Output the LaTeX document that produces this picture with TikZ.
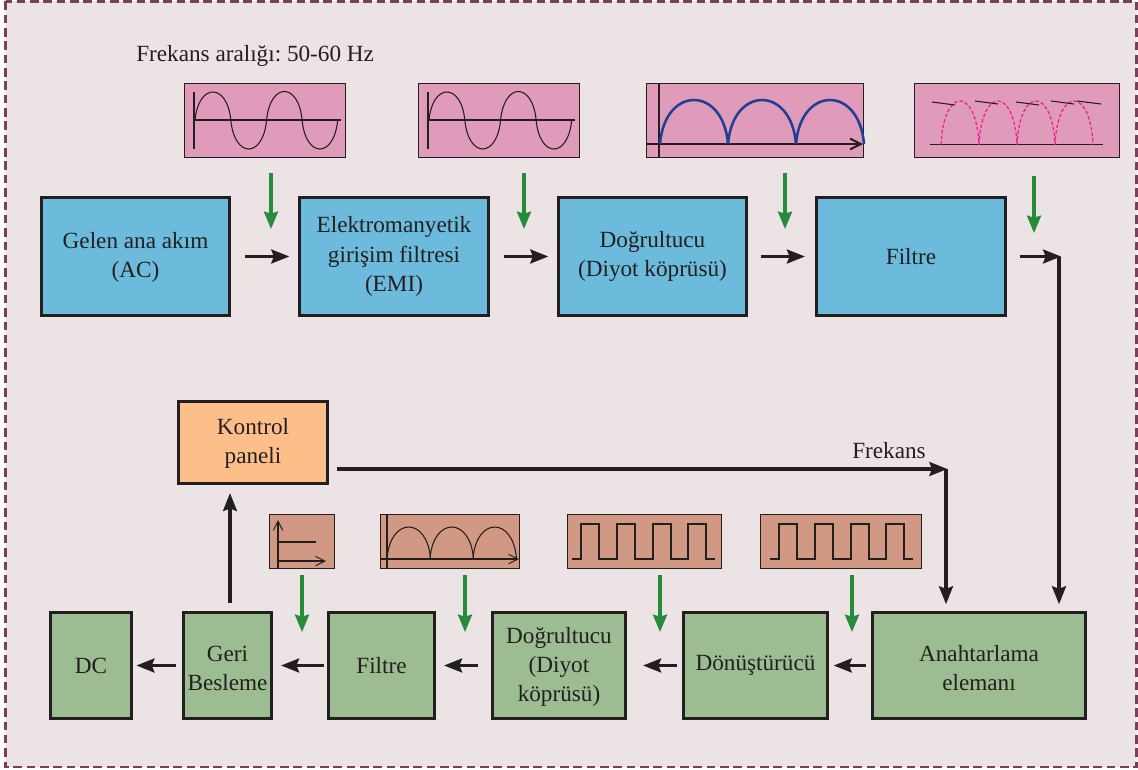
\documentclass[tikz,border=0pt]{standalone}
\usepackage{fontspec}
\setmainfont{Liberation Serif}
\usetikzlibrary{arrows.meta,calc}
\definecolor{paper}{HTML}{EBE3E4}
\definecolor{frame}{HTML}{7B3F5E}
\definecolor{ink}{HTML}{231F20}
\definecolor{bluebox}{HTML}{6CBADC}
\definecolor{greenbox}{HTML}{9CBD92}
\definecolor{orangebox}{HTML}{FCBF8A}
\definecolor{pinkthumb}{HTML}{E09ABA}
\definecolor{brownthumb}{HTML}{D19883}
\definecolor{greenarrow}{HTML}{268C39}
\definecolor{wave}{HTML}{1F3F94}
\definecolor{ripple}{HTML}{EC1C8E}
\frenchspacing
\tikzset{
  x=0.75pt,y=-0.75pt,
  sz/.style 2 args={minimum width=#1*0.75pt,minimum height=#2*0.75pt},
  block/.style={draw=ink,line width=2.4pt,inner sep=0pt,align=center,text=ink,font=\fontsize{17.4}{22}\selectfont},
  bluebl/.style={block,fill=bluebox},
  greenbl/.style={block,fill=greenbox},
  orangebl/.style={block,fill=orangebox},
  thumb/.style={draw=ink,line width=0.75pt,inner sep=0pt},
  pink/.style={thumb,fill=pinkthumb},
  brown/.style={thumb,fill=brownthumb},
  label/.style={text=ink,inner sep=0pt,font=\fontsize{17.4}{22}\selectfont},
  flow/.style={draw=ink,line width=2.3pt,-{Stealth[length=13.5pt,width=10.5pt,inset=2pt]}},
  feed/.style={draw=greenarrow,line width=2.3pt,-{Stealth[length=13pt,width=10.5pt,inset=1.5pt]}},
  thin wave/.style={draw=ink,line width=0.8pt},
  barb/.style={-{Straight Barb[length=7pt,width=7pt,line width=0.75pt]}},
}
\newcommand{\halfwave}[5][thin wave]{\draw[#1] (#2,#3) .. controls ({#2+0.1*#4},{#3+1.333*#5}) and ({#2+0.9*#4},{#3+1.333*#5}) .. ({#2+#4},#3);}
\newcommand{\archalf}[5][thin wave]{\draw[#1] (#2,#3) .. controls ({#2+0.07*#4},{#3+1.333*#5}) and ({#2+0.93*#4},{#3+1.333*#5}) .. ({#2+#4},#3);}
\begin{document}
\begin{tikzpicture}
\useasboundingbox (0,0) rectangle (1138,770);
\fill[white] (0,0) rectangle (1138,770);
\draw[frame,fill=paper,line width=1.9pt,dash pattern=on 6.4pt off 3.6pt] (5.5,1.5) rectangle (1136.5,767);

% labels
\node[label,anchor=west] (range) at (136,56) {Frekans aralığı: 50-60 Hz};
\node[label] (freq) at (889,451) {Frekans};

% top row
\node[bluebl,sz={188}{118}] (ac) at (135.5,256.5) {\rule{0pt}{13pt}Gelen ana akım\\(AC)};
\node[bluebl,sz={189}{118}] (emi) at (394,256.5) {Elektromanyetik\\girişim filtresi\\(EMI)};
\node[bluebl,sz={188}{118}] (rect) at (652.5,256.5) {Doğrultucu\\(Diyot köprüsü)};
\node[bluebl,sz={189}{118}] (filt) at (911,256.5) {Filtre};

% control
\node[orangebl,sz={149}{82}] (ctrl) at (253,442.5) {\rule{0pt}{13pt}Kontrol\\paneli};

% bottom row
\node[greenbl,sz={81}{106}] (dc) at (91,665.5) {DC};
\node[greenbl,sz={88}{106}] (fb) at (227.5,665.5) {\rule{0pt}{16pt}Geri\\Besleme};
\node[greenbl,sz={106}{106}] (filtb) at (381.5,665.5) {Filtre};
\node[greenbl,sz={133}{106},font=\fontsize{17.4}{21.5}\selectfont] (rectb) at (559,665.5) {\rule{0pt}{14pt}Doğrultucu\\(Diyot\\köprüsü)};
\node[greenbl,sz={144}{106}] (conv) at (755.5,665.5) {Dönüştürücü};
\node[greenbl,sz={213}{106}] (sw) at (979,665.5) {\rule{0pt}{16pt}Anahtarlama\\elemanı};

% thumbnails
\node[pink,sz={161}{74}] (t1) at (264.5,121) {};
\node[pink,sz={161}{74}] (t2) at (498.5,121) {};
\node[pink,sz={217}{74}] (t3) at (755,121) {};
\node[pink,sz={205}{74}] (t4) at (1016.5,121) {};
\node[brown,sz={65}{54}] (b1) at (301.5,541) {};
\node[brown,sz={139}{54}] (b2) at (449.5,541) {};
\node[brown,sz={154}{54}] (b3) at (644,541) {};
\node[brown,sz={161}{54}] (b4) at (840.5,541) {};

% sine curves
\foreach \dx in {0,234}{
  \begin{scope}[xshift=\dx*0.75pt]
    \draw[thin wave] (194,92) -- (194,149);
    \draw[thin wave] (194,120) -- (341,120);
    \halfwave{195}{120}{35.8}{-28}
    \halfwave{230.8}{120}{35.8}{29}
    \halfwave{266.6}{120}{35.5}{-28.5}
    \halfwave{302.1}{120}{35.6}{29}
  \end{scope}
}
% rectified, blue
\draw[draw=ink,line width=1.9pt] (659,84) -- (659,158);
\draw[draw=ink,line width=1.9pt,-{Straight Barb[length=8pt,width=8pt,line width=1.5pt]}] (647,144) -- (863,144);
\foreach \xx in {660,728,796}{\archalf[draw=wave,line width=1.9pt]{\xx}{144}{68}{-44}}
% ripple
\draw[thin wave] (930,144.7) -- (1103,144.7);
\foreach \xx in {941,979,1017,1055}{\archalf[draw=ripple,line width=0.9pt,dash pattern=on 2.6pt off 1.6pt]{\xx}{144.7}{38}{-43.7}}
\draw[thin wave] (932,102) -- (955,105);
\draw[thin wave] (975,101) -- (998,104);
\draw[thin wave] (1016,102) -- (1039,105);
\draw[thin wave] (1051,101) -- (1074,104);
\draw[thin wave] (1077,101) -- (1101,104);

% DC level
\draw[thin wave,barb] (278,568) -- (278,520);
\draw[thin wave,barb] (278,561) -- (326,561);
\draw[thin wave] (278,542) -- (316,542);
% rectified, black
\draw[thin wave] (387,514) -- (387,568);
\draw[thin wave,barb] (380,559) -- (519,559);
\foreach \xx in {387,430,473}{\archalf{\xx}{559}{43.5}{-32}}
% square waves
\draw[thin wave] (572,559) -| (581,524) -| (599,559) -| (617,524) -| (635,559) -| (653,524) -| (671,559) -| (688,524) -| (706,559) -- (715,559);
\draw[thin wave] (770,559) -| (779,524) -| (797,559) -| (815,524) -| (833,559) -| (851,524) -| (869,559) -| (886,524) -| (904,559) -- (913,559);

% green arrows
\coordinate (g1s) at (271,173); \coordinate (g1e) at (271,229);
\coordinate (g2s) at (524,173); \coordinate (g2e) at (524,229);
\coordinate (g3s) at (785,173); \coordinate (g3e) at (785,229);
\coordinate (g4s) at (1034,176); \coordinate (g4e) at (1034,233);
\coordinate (g5s) at (302,575); \coordinate (g5e) at (302,632);
\coordinate (g6s) at (465,575); \coordinate (g6e) at (465,632);
\coordinate (g7s) at (660,575); \coordinate (g7e) at (660,632);
\coordinate (g8s) at (852,575); \coordinate (g8e) at (852,632);
\foreach \n in {1,...,8}{\draw[feed] (g\n s) -- (g\n e);}

% top flow
\draw[flow,shorten <=10.5pt,shorten >=6.5pt] (ac.east) -- (emi.west);
\draw[flow,shorten <=10.5pt,shorten >=6.5pt] (emi.east) -- (rect.west);
\draw[flow,shorten <=9.5pt,shorten >=7.5pt] (rect.east) -- (filt.west);
\coordinate (c1) at (1059,256.5);
\draw[flow,shorten <=9.5pt,shorten >=-1.5pt] (filt.east) -- (c1);
\draw[flow,shorten >=5pt] (c1) -- (c1 |- sw.north);
% control flow
\coordinate (c2) at (946,469);
\coordinate (c3) at (230,600);
\draw[flow,shorten <=6pt,shorten >=-1pt] (ctrl.east |- c2) -- (c2);
\draw[flow,shorten >=5pt] (c2) -- (c2 |- sw.north);
\draw[flow,shorten <=6pt,shorten >=6pt] (fb.north -| c3) -- (ctrl.south -| c3);

% bottom flow
\draw[flow,shorten <=4pt,shorten >=3.5pt] (sw.west) -- (conv.east);
\draw[flow,shorten <=4pt,shorten >=12pt] (conv.west) -- (rectb.east);
\draw[flow,shorten <=10pt,shorten >=6pt] (rectb.west) -- (filtb.east);
\draw[flow,shorten <=2pt,shorten >=6pt] (filtb.west) -- (fb.east);
\draw[flow,shorten <=4.5pt,shorten >=2.5pt] (fb.west) -- (dc.east);
\end{tikzpicture}
\end{document}
